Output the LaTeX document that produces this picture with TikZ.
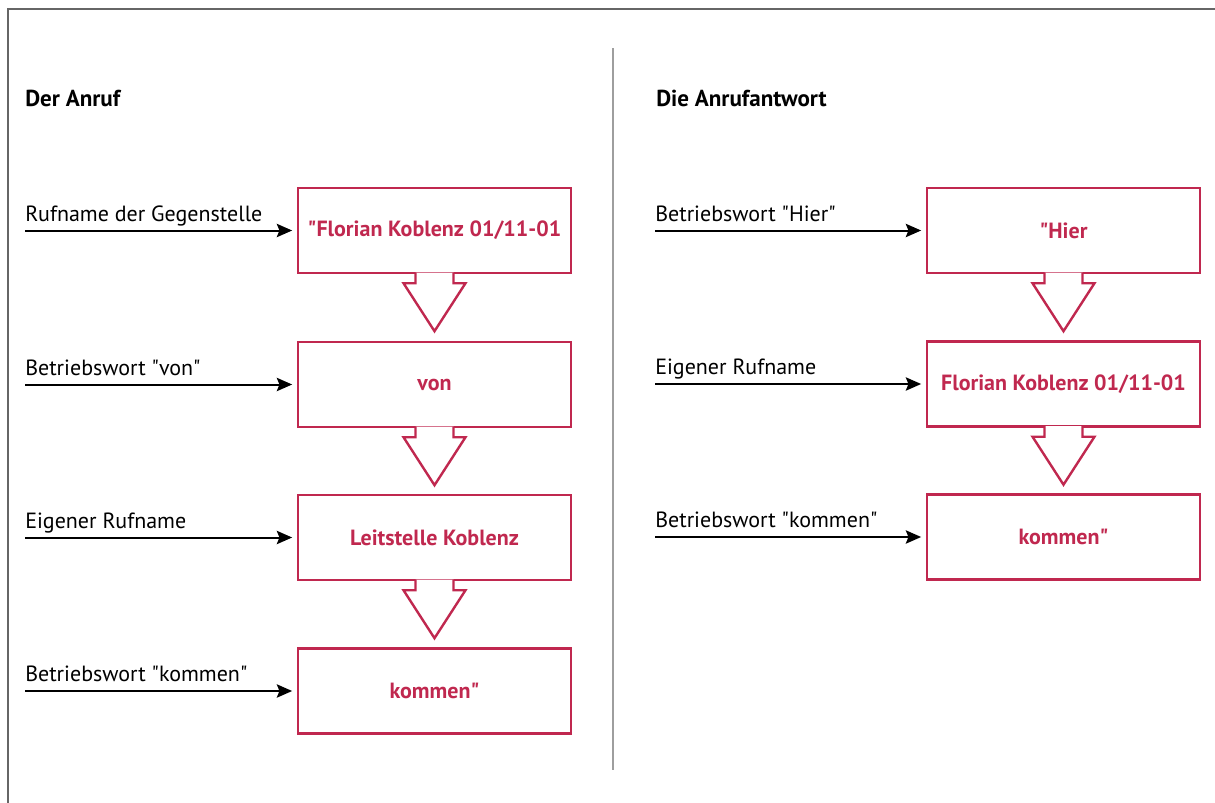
\documentclass[tikz,border=0pt]{standalone}
\usepackage{fontspec}
\setmainfont{PT Sans}
\usetikzlibrary{positioning,arrows.meta}
\definecolor{rufrot}{RGB}{192,40,79}
\definecolor{rahmengrau}{RGB}{102,102,102}
\definecolor{trenngrau}{RGB}{158,158,158}
\newcommand{\gz}{\textquotedbl}
\tikzset{
  feld/.style={draw=rufrot, line width=1.8pt, minimum width=204.75pt, minimum height=63.75pt,
    inner sep=0pt, text=rufrot, font=\fontsize{16.5}{19}\selectfont\bfseries},
  hinweis/.style={anchor=base west, inner sep=0pt, font=\fontsize{16.5}{19}\selectfont},
  titel/.style={anchor=base west, inner sep=0pt, font=\fontsize{17.3}{20}\selectfont\bfseries},
  zuleitung/.style={line width=1.5pt, shorten >=3.5pt, -{Stealth[length=11.5pt,width=10pt,inset=2pt]}},
  pics/weiter/.style={code={
    \filldraw[draw=rufrot, fill=white, line width=1.8pt] (-19,1.6) -- (-19,-9) -- (-31,-9) -- (0,-57) -- (31,-9) -- (19,-9) -- (19,1.6);
  }}
}

\begin{document}
\begin{tikzpicture}[x=0.75pt,y=0.75pt,yscale=-1,xscale=1]
\useasboundingbox (0,0) rectangle (1215,803);

%Frame and divider
\draw[rahmengrau, line width=2.2pt] (8,803) -- (8,9) -- (1215,9);
\draw[trenngrau, line width=1.5pt] (613,48) -- (613,770);

%Left column: Der Anruf
\node[titel] (kopfL) at (25,106) {Der Anruf};
\node[feld] (a1) at (434.5,230.5) {\gz Florian Koblenz 01/11-01};
\node[feld] (a2) at (434.5,384.5) {von};
\node[feld] (a3) at (434.5,537.5) {Leitstelle Koblenz};
\node[feld] (a4) at (434.5,691) {kommen\gz};
\pic at (a1.south) {weiter};
\pic at (a2.south) {weiter};
\pic at (a3.south) {weiter};

\coordinate (qa1) at (25,230.5);
\coordinate (qa2) at (25,384.5);
\coordinate (qa3) at (25,537.5);
\coordinate (qa4) at (25,691);
\node[hinweis] (ta1) at (25,221) {Rufname der Gegenstelle};
\node[hinweis] (ta2) at (25,375) {Betriebswort \gz von\gz};
\node[hinweis] (ta3) at (25,528) {Eigener Rufname};
\node[hinweis] (ta4) at (25,681.5) {Betriebswort \gz kommen\gz};
\draw[zuleitung] (qa1) -- (a1);
\draw[zuleitung] (qa2) -- (a2);
\draw[zuleitung] (qa3) -- (a3);
\draw[zuleitung] (qa4) -- (a4);

%Right column: Die Anrufantwort
\node[titel] (kopfR) at (656,106) {Die Anrufantwort};
\node[feld] (b1) at (1063.5,230.5) {\gz Hier};
\node[feld] (b2) at (1063.5,384) {Florian Koblenz 01/11-01};
\node[feld] (b3) at (1063.5,537) {kommen\gz};
\pic at (b1.south) {weiter};
\pic at (b2.south) {weiter};

\coordinate (qb1) at (655,230.5);
\coordinate (qb2) at (655,384);
\coordinate (qb3) at (655,537);
\node[hinweis] (tb1) at (655,221) {Betriebswort \gz Hier\gz};
\node[hinweis] (tb2) at (655,374.5) {Eigener Rufname};
\node[hinweis] (tb3) at (655,527.5) {Betriebswort \gz kommen\gz};
\draw[zuleitung] (qb1) -- (b1);
\draw[zuleitung] (qb2) -- (b2);
\draw[zuleitung] (qb3) -- (b3);
\end{tikzpicture}
\end{document}
